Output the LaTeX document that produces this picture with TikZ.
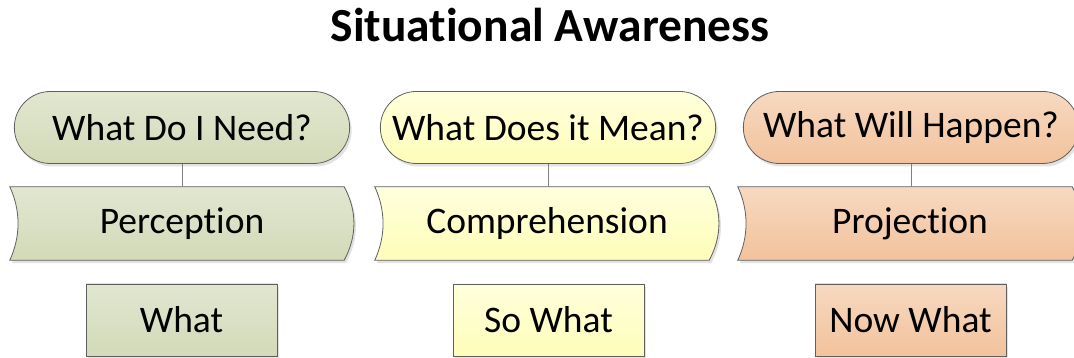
\documentclass[tikz,border=0pt]{standalone}
\usepackage{fontspec}
\setmainfont{Carlito}[Ligatures=NoCommon]
\usetikzlibrary{shapes.misc,shadows,calc,backgrounds}

\definecolor{greenTop}{HTML}{E1E7D0}
\definecolor{greenBot}{HTML}{D2DAB8}
\definecolor{yellowTop}{HTML}{FFFFDC}
\definecolor{yellowBot}{HTML}{FEFDB9}
\definecolor{orangeTop}{HTML}{F7D9C0}
\definecolor{orangeBot}{HTML}{F2C29C}
\definecolor{edgegray}{HTML}{5F5F5F}
\definecolor{linkgray}{HTML}{808080}

\tikzset{
  shade/.style={drop shadow={shadow xshift=2pt, shadow yshift=-3pt,
      opacity=0.25, fill=black!45}},
  txt/.style={font=\fontsize{37.5}{44}\selectfont},
  term/.style={rounded rectangle, draw=edgegray, line width=0.8pt,
      minimum width=342pt, minimum height=72pt, txt, shade},
  band/.style={minimum width=344pt, minimum height=73pt, inner sep=0pt, txt},
  tag/.style={rectangle, draw=edgegray, line width=0.8pt,
      minimum width=191pt, minimum height=72pt, txt, shade},
  bandline/.style={draw=edgegray, line width=0.8pt, shade},
  link/.style={draw=linkgray, line width=0.8pt}
}

% banner outline round a band node
\newcommand{\bandpath}[3]{%
  \draw[bandline, top color=#2, bottom color=#3]
    (#1.north west) -- ($(#1.north east)+(-10,0)$)
    .. controls +(13,-24) and +(13,24) .. ($(#1.south east)+(-10,0)$)
    -- (#1.south west)
    .. controls +(11,24) and +(11,-24) .. (#1.north west) -- cycle;}

\begin{document}
\begin{tikzpicture}[x=1pt,y=1pt]
\useasboundingbox (0,0) rectangle (1074,358);
\clip (0,0) rectangle (1074,358);

\node (title) [anchor=base, font=\bfseries\fontsize{47.5}{56}\selectfont]
    at (550,316) {Situational Awareness};

% question row
\node (need) [term, top color=greenTop, bottom color=greenBot]
    at (182,230.5) {What Do I Need?};
\node (mean) [term, top color=yellowTop, bottom color=yellowBot]
    at (548,230.5) {What Does it Mean?};
\node (happen) [term, top color=orangeTop, bottom color=orangeBot]
    at (911,230.5) {What Will Happen?};

% level row
\node (perc) [band] at (182,134.5) {Perception};
\node (comp) [band] at (547,134.5) {Comprehension};
\node (proj) [band] at (910,134.5) {Projection};
\begin{scope}[on background layer]
\bandpath{perc}{greenTop}{greenBot}
\bandpath{comp}{yellowTop}{yellowBot}
\bandpath{proj}{orangeTop}{orangeBot}
\end{scope}

% short answers
\node (what) [tag, top color=greenTop, bottom color=greenBot]
    at (181.5,38) {What};
\node (sowhat) [tag, top color=yellowTop, bottom color=yellowBot]
    at (548.5,38) {So What};
\node (nowwhat) [tag, top color=orangeTop, bottom color=orangeBot]
    at (910.5,38) {Now What};

\draw[link] (need.south) -- (perc.north);
\draw[link] (mean.south) -- (mean.south |- comp.north);
\draw[link] (happen.south) -- (happen.south |- proj.north);
\end{tikzpicture}
\end{document}
